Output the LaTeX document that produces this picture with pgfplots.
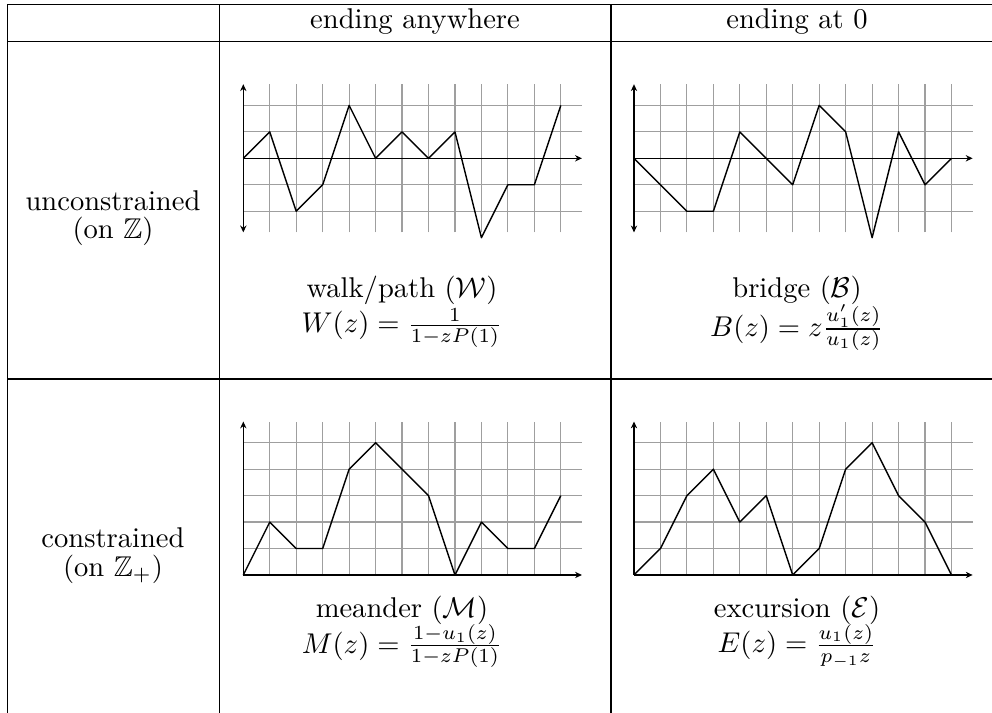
\documentclass[border=0pt]{standalone}
\usepackage{amsmath,amssymb}
\usepackage{pgfplots}
\pgfplotsset{compat=1.18}
\usetikzlibrary{arrows.meta}

% shared look of the four lattice-path panels
\pgfplotsset{
  pathpanel/.style={
    anchor=origin, x=9.26pt, y=9.26pt,
    axis lines=middle, xmin=0, xmax=12.8,
    xtick={1,...,12}, xticklabels={}, yticklabels={},
    grid=major, major grid style={gray!75, line width=0.4pt},
    major tick length=0pt,
    axis line style={line width=0.55pt},
    x axis line style={-{Stealth[length=2.4pt,width=2.2pt]}},
    clip=false,
  },
  fullrow/.style={pathpanel, ymin=-2.8, ymax=2.8, ytick={-2,-1,1,2},
    y axis line style={{Stealth[length=2.4pt,width=2.2pt]}-{Stealth[length=2.4pt,width=2.2pt]}}},
  halfrow/.style={pathpanel, ymin=0, ymax=5.8, ytick={1,...,5},
    y axis line style={-{Stealth[length=2.4pt,width=2.2pt]}}},
  walkline/.style={black, mark=none, line width=0.5pt, line join=round},
}

\begin{document}
\begin{tikzpicture}[x=0.35pt, y=-0.35pt, every node/.style={inner sep=0pt}]
\useasboundingbox (0,0) rectangle (992,713);

% table rules
\begin{scope}[line width=0.4pt]
  \draw (7.3,4.3) -- (992,4.3);
  \draw (7.3,41.7) -- (992,41.7);
  \draw (7.3,379) -- (992,379);
  \draw (7.3,4.3) -- (7.3,720);
  \draw (219.3,4.3) -- (219.3,720);
  \draw (611,4.3) -- (611,720);
\end{scope}

% header and row labels
\node[anchor=base] at (415,29) {ending anywhere};
\node[anchor=base] at (797,29) {ending at 0};
\node[anchor=base] at (113,210.7) {unconstrained};
\node[anchor=base] at (113,239) {(on $\mathbb{Z}$)};
\node[anchor=base] at (113,548) {constrained};
\node[anchor=base] at (113,576.5) {(on $\mathbb{Z}_+$)};

% walk
\begin{axis}[fullrow, at={(85.16pt,-55.41pt)}]
\addplot[walkline] coordinates {
(0,0) (1,1) (2,-2) (3,-1) (4,2) (5,0) (6,1) (7,0) (8,1) (9,-3) (10,-1) (11,-1) (12,2)
};
\end{axis}

% bridge
\begin{axis}[fullrow, at={(221.9pt,-55.41pt)}]
\addplot[walkline] coordinates {
(0,0) (1,-1) (2,-2) (3,-2) (4,1) (5,0) (6,-1) (7,2) (8,1) (9,-3) (10,1) (11,-1) (12,0)
};
\end{axis}

% meander
\begin{axis}[halfrow, at={(85.16pt,-201.25pt)}]
\addplot[walkline] coordinates {
(0,0) (1,2) (2,1) (3,1) (4,4) (5,5) (6,4) (7,3) (8,0) (9,2) (10,1) (11,1) (12,3)
};
\end{axis}

% excursion
\begin{axis}[halfrow, at={(221.9pt,-201.25pt)}]
\addplot[walkline] coordinates {
(0,0) (1,1) (2,3) (3,4) (4,2) (5,3) (6,0) (7,1) (8,4) (9,5) (10,3) (11,2) (12,0)
};
\end{axis}

% captions and generating functions
\node[anchor=base] at (402,298) {walk/path ($\mathcal{W}$)};
\node at (402,328) {$W(z) = \frac{1}{1-zP(1)}$};
\node[anchor=base] at (797,298) {bridge ($\mathcal{B}$)};
\node at (797,328) {$B(z) = z\frac{u_1'(z)}{u_1(z)}$};
\node[anchor=base] at (402,617) {meander ($\mathcal{M}$)};
\node at (402,646) {$M(z) = \frac{1-u_1(z)}{1-zP(1)}$};
\node[anchor=base] at (797,617) {excursion ($\mathcal{E}$)};
\node at (797,646) {$E(z) = \frac{u_1(z)}{p_{-1}z}$};
\end{tikzpicture}
\end{document}
